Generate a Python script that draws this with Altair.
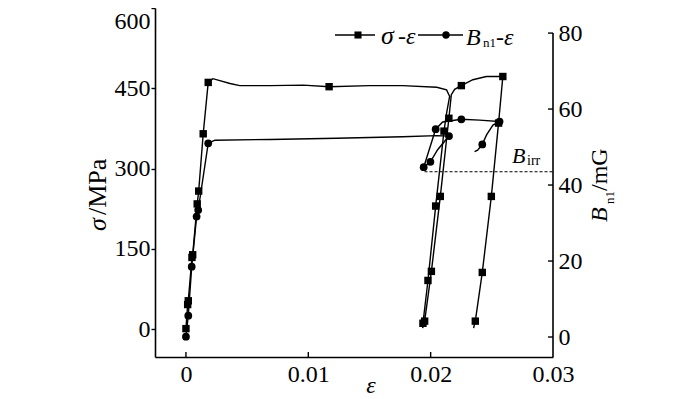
import altair as alt
import pandas as pd

# ---------------- data ----------------
sig_line_eps = [0, 0.00014, 0.00019, 0.00049, 0.00055, 0.00092, 0.00104, 0.00141, 0.00182,
                0.0022, 0.0036, 0.0044, 0.0069, 0.0096, 0.0117, 0.0150, 0.0177, 0.0205,
                0.0213, 0.02155, 0.0213, 0.02109, 0.02041, 0.01978, 0.01937, 0.01935,
                0.01951, 0.02006, 0.02079, 0.02149, 0.02169, 0.02196, 0.02251, 0.02345,
                0.02455, 0.0259, 0.02555, 0.02496, 0.02422, 0.02365, 0.02351]
sig_line_val = [1, 46, 53, 134, 139, 234, 258, 365, 461,
                468, 459, 455, 455, 456, 453, 455, 455, 452,
                447, 435, 403, 370, 230, 91, 11, 2,
                15, 108, 248, 394, 438, 448, 455, 466,
                472, 472, 385, 248, 106, 15, 2]

sig_mark_eps = [0, 0.00014, 0.00019, 0.00049, 0.00055, 0.00092, 0.00104, 0.00141, 0.00182,
                0.0117, 0.02109, 0.02041, 0.01978, 0.01937, 0.01951, 0.02006, 0.02079,
                0.02149, 0.02251, 0.0259, 0.02555, 0.02496, 0.02422, 0.02365]
sig_mark_val = [1, 46, 53, 134, 139, 234, 258, 365, 461,
                453, 370, 230, 91, 11, 15, 108, 248,
                394, 455, 472, 385, 248, 106, 15]

b_line_eps = [0, 0.00019, 0.00047, 0.00087, 0.001, 0.00182, 0.00237, 0.00686, 0.0123,
              0.0177, 0.0205, 0.0215, 0.02057, 0.01998, 0.01943, 0.02041, 0.02098,
              0.02251, 0.024, 0.02563, 0.02509, 0.02457, 0.02422, 0.02384, 0.02359]
b_line_val = [0.1, 5.6, 18.5, 31.7, 33.4, 51.0, 51.8, 52.0, 52.3,
              52.7, 53.0, 52.9, 49.3, 46.1, 44.7, 54.7, 56.6,
              57.3, 57.1, 56.7, 55.8, 53.2, 50.7, 49.2, 48.8]

b_mark_eps = [0, 0.00019, 0.00047, 0.00087, 0.001, 0.00182, 0.0215, 0.01998, 0.01943,
              0.02041, 0.02251, 0.02563, 0.02422]
b_mark_val = [0.1, 5.6, 18.5, 31.7, 33.4, 51.0, 52.9, 46.1, 44.7,
              54.7, 57.3, 56.7, 50.7]

x_ticks = [0, 0.01, 0.02, 0.03]
sig_ticks = [0, 150, 300, 450, 600]
b_ticks = [0, 20, 40, 60, 80]
b_irr_level = 43.5
b_irr_start = 0.0195

# ---------------- layout ----------------
W, H = 398, 349
FONT = "Liberation Serif"
LW = 1.4
LFS = 24

xs = alt.Scale(domain=[-0.00253, 0.03], nice=False, zero=False)
ys = alt.Scale(domain=[-52, 600], nice=False, zero=False)
yb = alt.Scale(domain=[-5.26, 86.6], nice=False, zero=False)

one = pd.DataFrame({"k": [0]})


def txt(s, x, y, size=24, italic=False, angle=0, align="left", baseline="alphabetic"):
    return alt.Chart(one).mark_text(
        text=s, font=FONT, fontSize=size, fontStyle="italic" if italic else "normal",
        angle=angle, align=align, baseline=baseline, color="black"
    ).encode(x=alt.value(x), y=alt.value(y))


sig_line_df = pd.DataFrame({"eps": sig_line_eps, "val": sig_line_val, "i": range(len(sig_line_eps))})
sig_mark_df = pd.DataFrame({"eps": sig_mark_eps, "val": sig_mark_val})
b_line_df = pd.DataFrame({"eps": b_line_eps, "val": b_line_val, "i": range(len(b_line_eps))})
b_mark_df = pd.DataFrame({"eps": b_mark_eps, "val": b_mark_val})

top_test = "datum.value == %d" % sig_ticks[-1]

x_axis = alt.Axis(values=x_ticks, format="~g", ticks=False, domain=True, domainColor="black",
                  domainWidth=1.6, labelFont=FONT, labelFontSize=LFS, labelColor="black",
                  labelPadding=5, labelFlush=False, labelOverlap=False, grid=False, title=None)
y_axis = alt.Axis(values=sig_ticks, orient="left", tickSize=4, tickColor="black", tickWidth=1.4,
                  domain=True, domainColor="black", domainWidth=1.6, labelFont=FONT,
                  labelFontSize=LFS, labelColor="black", labelPadding=1, grid=False, title=None,
                  labelBaseline={"condition": {"test": top_test, "value": "top"}, "value": "middle"},
                  labelOffset={"condition": {"test": top_test, "value": 1}, "value": 0})
b_axis = alt.Axis(values=b_ticks, orient="right", ticks=False, domain=False, labelFont=FONT,
                  labelFontSize=LFS, labelColor="black", labelPadding=5, grid=False, title=None)

sig_line = alt.Chart(sig_line_df).mark_line(color="black", strokeWidth=LW).encode(
    x=alt.X("eps:Q", scale=xs, axis=x_axis),
    y=alt.Y("val:Q", scale=ys, axis=y_axis),
    order="i:Q",
)
sig_pts = alt.Chart(sig_mark_df).mark_point(shape="square", filled=True, size=55, color="black", opacity=1).encode(
    x=alt.X("eps:Q", scale=xs, axis=x_axis),
    y=alt.Y("val:Q", scale=ys, axis=None),
)
x_tick_marks = alt.Chart(pd.DataFrame({"eps": x_ticks[:-1]})).mark_rule(color="black", strokeWidth=LW).encode(
    x=alt.X("eps:Q", scale=xs, axis=x_axis), y=alt.value(H - 5), y2=alt.value(H)
)

b_line = alt.Chart(b_line_df).mark_line(color="black", strokeWidth=LW).encode(
    x=alt.X("eps:Q", scale=xs, axis=x_axis),
    y=alt.Y("val:Q", scale=yb, axis=b_axis),
    order="i:Q",
)
b_pts = alt.Chart(b_mark_df).mark_point(shape="circle", filled=True, size=60, color="black", opacity=1).encode(
    x=alt.X("eps:Q", scale=xs, axis=x_axis),
    y=alt.Y("val:Q", scale=yb, axis=None),
)
b_axis_line = alt.Chart(pd.DataFrame({"top": [b_ticks[-1]]})).mark_rule(color="black", strokeWidth=1.6).encode(
    x=alt.value(W), y=alt.Y("top:Q", scale=yb, axis=None), y2=alt.value(H)
)
b_tick_marks = alt.Chart(pd.DataFrame({"v": b_ticks})).mark_rule(color="black", strokeWidth=LW).encode(
    y=alt.Y("v:Q", scale=yb, axis=None), x=alt.value(W - 5), x2=alt.value(W)
)
irr_df = pd.DataFrame({"eps": [b_irr_start], "x2": [x_ticks[-1]], "b": [b_irr_level]})
irr_line = alt.Chart(irr_df).mark_rule(color="black", strokeWidth=1, strokeDash=[3, 2]).encode(
    x=alt.X("eps:Q", scale=xs, axis=x_axis), x2="x2:Q", y=alt.Y("b:Q", scale=yb, axis=None)
)

# legend and titles
legend = [
    alt.Chart(one).mark_rule(color="black", strokeWidth=LW).encode(x=alt.value(180), x2=alt.value(220), y=alt.value(27)),
    alt.Chart(one).mark_point(shape="square", filled=True, size=50, color="black", opacity=1).encode(x=alt.value(203), y=alt.value(27)),
    txt("σ", 226, 36, size=26, italic=True),
    txt("-", 243, 36, size=24),
    txt("ε", 251, 36, size=24, italic=True),
    alt.Chart(one).mark_rule(color="black", strokeWidth=LW).encode(x=alt.value(263), x2=alt.value(308), y=alt.value(27)),
    alt.Chart(one).mark_point(shape="circle", filled=True, size=55, color="black", opacity=1).encode(x=alt.value(291), y=alt.value(27)),
    txt("B", 311, 37, size=24, italic=True),
    txt("n1", 328, 39, size=13),
    txt("-", 341, 37, size=24),
    txt("ε", 349, 37, size=24, italic=True),
]
titles = [
    txt("ε", 216, 385, size=24, italic=True, align="center"),
    txt("σ", -57, 223, size=26, italic=True, angle=270, baseline="middle"),
    txt("/MPa", -57, 207, size=26, angle=270, baseline="middle"),
    txt("B", 445, 214, size=24, italic=True, angle=270, baseline="middle"),
    txt("n1", 455, 196, size=13, angle=270, baseline="middle"),
    txt("/mG", 445, 183, size=24, angle=270, baseline="middle"),
    txt("B", 357, 155, size=22, italic=True),
    txt("irr", 372, 157, size=14),
]

chart = alt.layer(
    sig_line, b_line, sig_pts, b_pts, x_tick_marks, b_axis_line, b_tick_marks, irr_line,
    *legend, *titles
).resolve_scale(y="independent").properties(
    width=W, height=H,
    autosize=alt.AutoSizeParams(type="none"),
    padding={"left": 147, "top": 0, "right": 139, "bottom": 40},
    background="white",
).configure_view(stroke=None)

chart.save("out.html", embed_options={"renderer": "svg", "actions": False})
